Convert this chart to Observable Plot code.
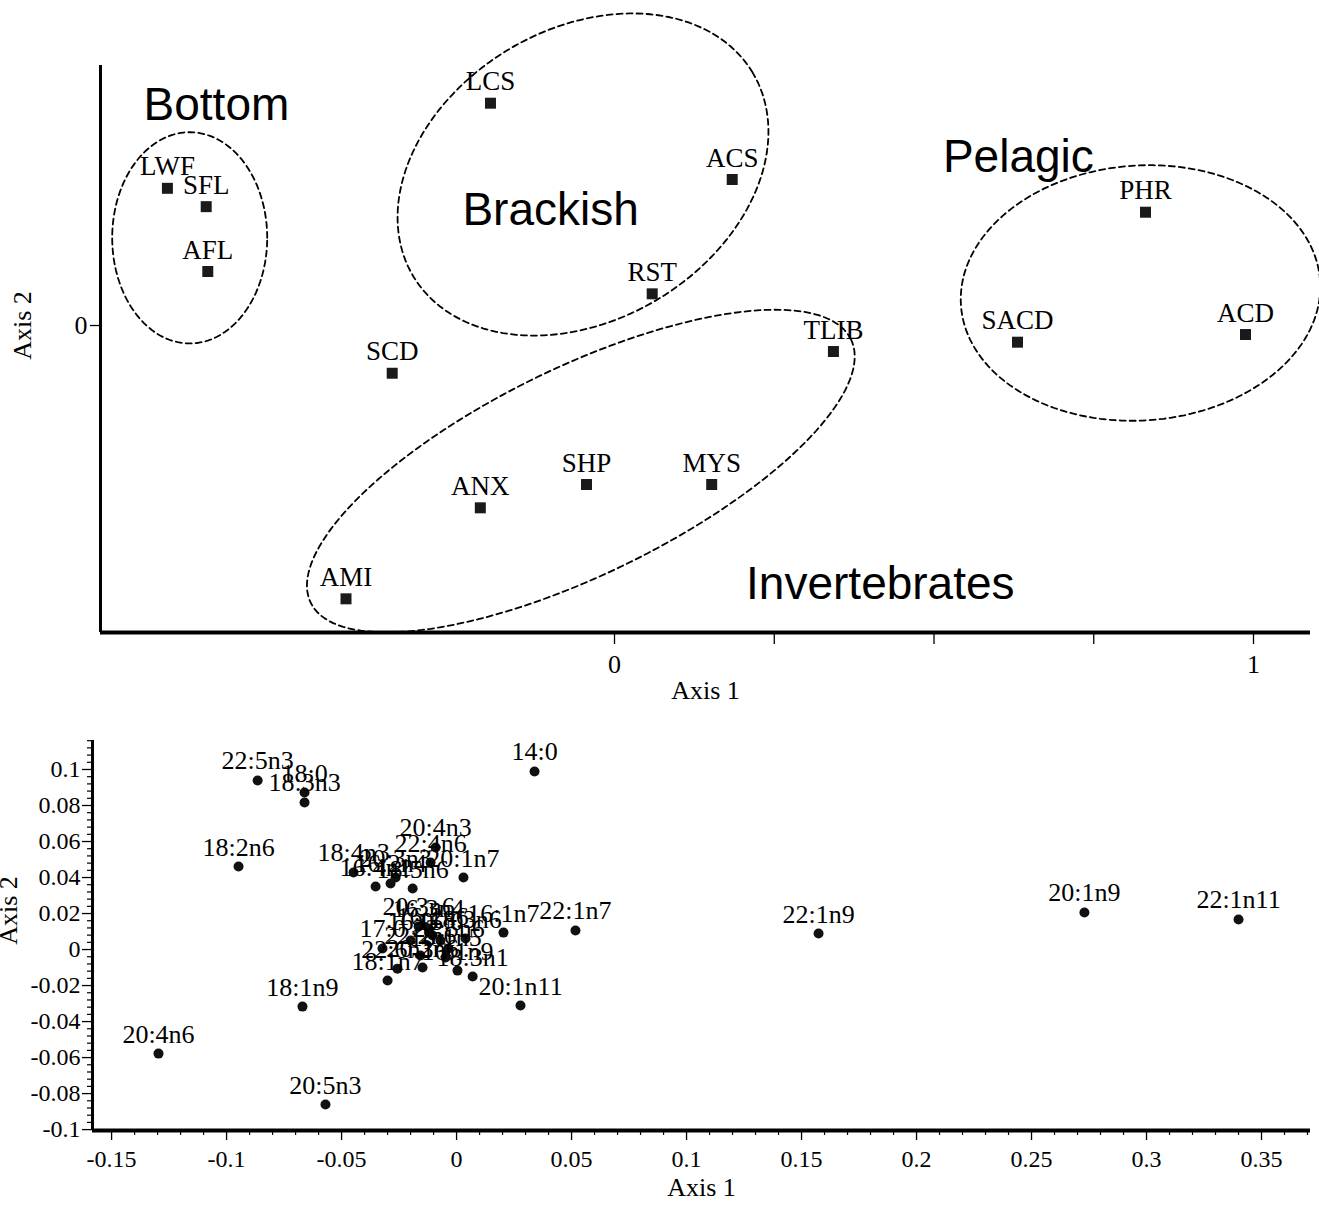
<!DOCTYPE html>
<html>
<head>
<meta charset="utf-8">
<script src="https://cdn.jsdelivr.net/npm/d3@7"></script>
<script src="https://cdn.jsdelivr.net/npm/@observablehq/plot@0.6"></script>
<style>
  body { margin: 0; background: #fff; }
  #top, #bottom { position: absolute; left: 0; }
  #top { top: 0; }
  #bottom { top: 720px; }
</style>
</head>
<body>
<div id="top"></div>
<div id="bottom"></div>
<script>
// ---------- Top chart: species ----------
const speciesNames = ["LWF","SFL","AFL","LCS","ACS","RST","SCD","TLIB","ANX","SHP","MYS","AMI","PHR","SACD","ACD"];
const speciesAxis1 = [-0.6997,-0.6390,-0.6365,-0.1941,0.1842,0.0590,-0.3479,0.3426,-0.2100,-0.0438,0.1521,-0.4202,0.8310,0.6307,0.9875];
const speciesAxis2 = [0.2147,0.1860,0.0845,0.3479,0.2285,0.0496,-0.0747,-0.0407,-0.2853,-0.2488,-0.2488,-0.4277,0.1773,-0.0261,-0.0141];

const groupNames  = ["Bottom","Brackish","Pelagic","Invertebrates"];
const groupLabelX = [-0.623,-0.100,0.632,0.416];
const groupLabelY = [0.344,0.180,0.263,-0.405];

// group ellipses: centre, semi-axes and tilt (degrees)
const ellipseCX    = [-0.6648,-0.0493,0.8232,-0.0527];
const ellipseCY    = [0.1372,0.2363,0.0509,-0.2277];
const ellipseRX    = [0.1213,0.3097,0.2817,0.4703];
const ellipseRY    = [0.1653,0.2277,0.1995,0.1620];
const ellipseAngle = [0,31,4,26];

const topXTicks = [0,0.25,0.5,0.75,1];
const topXTickLabels = ["0","","","","1"];
const topYTicks = [0];
const topYTickLabels = ["0"];

// ---------- Bottom chart: fatty acids ----------
const faNames = ["14:0","22:5n3","18:0","18:3n3","18:2n6","20:4n3","22:4n6","18:4n3","16:4n1","16:2n4","20:3n3","18:5n6","20:1n7",
  "16:1n7","20:3n6","16:3n4","17:0","22:6n3","18:1n7","20:2n6","16:1n9","18:3n1","18:3n6","16:0","15:0","22:5n6","16:2n6","22:2n6","18:1n5",
  "22:1n7","22:1n9","20:1n9","22:1n11","20:1n11","18:1n9","20:4n6","20:5n3"];
const faAxis1 = [0.0339,-0.0865,-0.0661,-0.0661,-0.0948,-0.0091,-0.0113,-0.0448,-0.0352,-0.0287,-0.0265,-0.0191,0.0030,
  0.0204,-0.0165,-0.0122,-0.0322,-0.0257,-0.0300,-0.0148,0.0004,0.0070,0.0039,-0.0200,-0.0070,-0.0035,-0.0104,-0.0157,-0.0048,
  0.0517,0.1574,0.2730,0.3400,0.0278,-0.0670,-0.1296,-0.0570];
const faAxis2 = [0.0989,0.0939,0.0872,0.0817,0.0461,0.0567,0.0483,0.0428,0.0350,0.0367,0.0400,0.0339,0.0400,
  0.0094,0.0128,0.0117,0.0006,-0.0106,-0.0172,-0.0100,-0.0117,-0.0150,0.0061,0.0050,0.0050,0.0006,0.0078,-0.0033,-0.0044,
  0.0106,0.0089,0.0206,0.0167,-0.0311,-0.0317,-0.0578,-0.0861];

const bottomXTicks = [-0.15,-0.1,-0.05,0,0.05,0.1,0.15,0.2,0.25,0.3,0.35];
const bottomYTicks = [-0.1,-0.08,-0.06,-0.04,-0.02,0,0.02,0.04,0.06,0.08,0.1];

// ---------- build tables ----------
const species = speciesNames.map((n,i) => ({name:n, x:speciesAxis1[i], y:speciesAxis2[i]}));
const groups = groupNames.map((n,i) => ({name:n, x:groupLabelX[i], y:groupLabelY[i]}));
const ellipses = [];
ellipseCX.forEach((cx,i) => {
  const a = ellipseAngle[i]*Math.PI/180, ca = Math.cos(a), sa = Math.sin(a);
  for (let k = 0; k < 160; k++) {
    const t = 2*Math.PI*k/160;
    const ex = ellipseRX[i]*Math.cos(t), ey = ellipseRY[i]*Math.sin(t);
    ellipses.push({g:i, x: cx + ex*ca - ey*sa, y: ellipseCY[i] + ex*sa + ey*ca});
  }
});
const fa = faNames.map((n,i) => ({name:n, x:faAxis1[i], y:faAxis2[i]}));

const serif = "'Liberation Serif','Times New Roman',serif";
const sans = "'Liberation Sans',Arial,sans-serif";

// ---------- top plot ----------
const topX = [-0.8044, 1.0892], topY = [-0.4804, 0.4069];
const topPlot = Plot.plot({
  width: 1319, height: 715,
  marginLeft: 100, marginRight: 9, marginTop: 65, marginBottom: 83,
  x: {domain: topX, axis: null},
  y: {domain: topY, axis: null},
  style: {fontFamily: serif, background: "white", overflow: "visible", color: "black"},
  marks: [
    Plot.line(ellipses, {x:"x", y:"y", z:"g", curve:"linear-closed", stroke:"black", strokeWidth:1.8, strokeDasharray:"6,4"}),
    Plot.ruleY([topY[0]], {stroke:"black", strokeWidth:4}),
    Plot.ruleX([topX[0]], {stroke:"black", strokeWidth:3}),
    Plot.axisX(topXTicks, {anchor:"bottom", tickSize:12, tickPadding:10, fontSize:26, strokeWidth:1.3,
      tickFormat: d => topXTickLabels[topXTicks.indexOf(d)], label:null}),
    Plot.axisY(topYTicks, {anchor:"left", tickSize:10, tickPadding:3, fontSize:26, strokeWidth:1.3,
      tickFormat: d => topYTickLabels[topYTicks.indexOf(d)], label:null}),
    Plot.text(["Axis 1"], {frameAnchor:"bottom", dy:66, fontSize:26, fill:"black"}),
    Plot.text(["Axis 2"], {x:[-0.9264], y:[0], text:d=>d, rotate:-90, fontSize:26, fill:"black"}),
    Plot.dot(species, {x:"x", y:"y", symbol:"square", r:6.2, fill:"#1a1a1a", stroke:"none"}),
    Plot.text(species, {x:"x", y:"y", text:"name", dy:-13, lineAnchor:"bottom", fontSize:27, fill:"black"}),
    Plot.text(groups, {x:"x", y:"y", text:"name", fontSize:46, fontFamily:sans, fill:"black"})
  ]
});
document.getElementById("top").append(topPlot);

// ---------- bottom plot ----------
const botX = [-0.1583, 0.3713], botY = [-0.1005, 0.1161];
const minorX = d3.range(-15, 38).map(k => k/100).filter(v => Math.abs(Math.round(v*100) % 5) !== 0);
const minorY = d3.range(-25, 30).map(k => k*0.004).filter(v => Math.abs(Math.round(v*1000) % 20) !== 0);
const bottomPlot = Plot.plot({
  width: 1319, height: 492,
  marginLeft: 92, marginRight: 9, marginTop: 20, marginBottom: 82,
  x: {domain: botX, axis: null},
  y: {domain: botY, axis: null},
  style: {fontFamily: serif, background: "white", overflow: "visible", color: "black"},
  marks: [
    Plot.ruleY([botY[0]], {stroke:"black", strokeWidth:4}),
    Plot.ruleX([botX[0]], {stroke:"black", strokeWidth:3}),
    Plot.axisX(minorX, {anchor:"bottom", tickSize:5, strokeWidth:1.2, tickFormat:() => "", label:null}),
    Plot.axisX(bottomXTicks, {anchor:"bottom", tickSize:10, tickPadding:9, fontSize:24, strokeWidth:1.3,
      tickFormat: d => String(d), label:null}),
    Plot.axisY(minorY, {anchor:"left", tickSize:5, strokeWidth:1.2, tickFormat:() => "", label:null}),
    Plot.axisY(bottomYTicks, {anchor:"left", tickSize:10, tickPadding:2, fontSize:24, strokeWidth:1.3,
      tickFormat: d => String(d), label:null}),
    Plot.text(["Axis 1"], {frameAnchor:"bottom", dy:65, fontSize:26, fill:"black"}),
    Plot.text(["Axis 2"], {x:[-0.1948], y:[0.0217], text:d=>d, rotate:-90, fontSize:26, fill:"black"}),
    Plot.dot(fa, {x:"x", y:"y", r:5, fill:"#111", stroke:"none"}),
    Plot.text(fa, {x:"x", y:"y", text:"name", dy:-11, lineAnchor:"bottom", fontSize:26, fill:"black"})
  ]
});
document.getElementById("bottom").append(bottomPlot);
</script>
</body>
</html>
